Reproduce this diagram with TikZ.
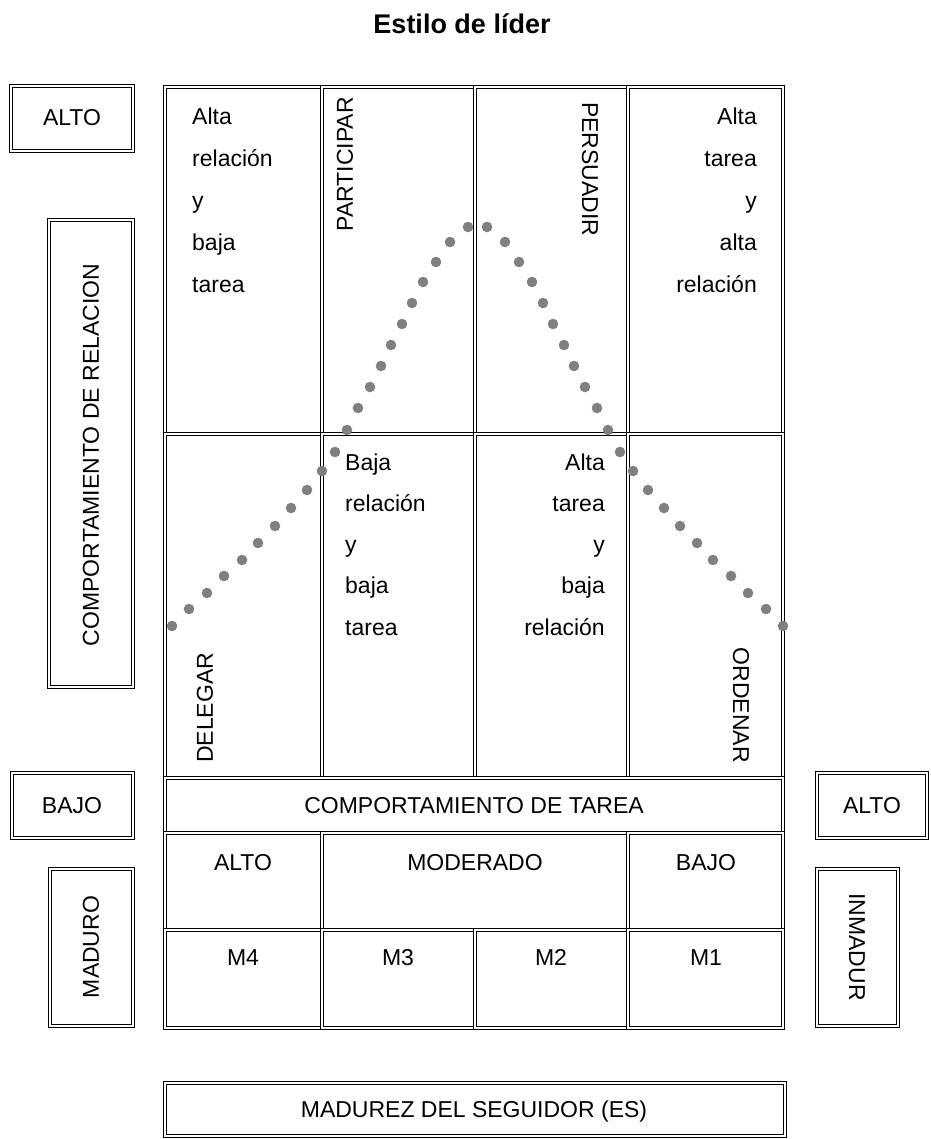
\documentclass[tikz,border=0pt]{standalone}
\usepackage{fontspec}
\setmainfont{Liberation Sans}
\begin{document}
\begin{tikzpicture}[x=1pt,y=-1pt,
    dbox/.style={draw=black,double=white,line width=1.6pt,double distance=1.5pt},
    txt/.style={font=\fontsize{23}{27}\selectfont,inner sep=0pt},
    dotc/.style={fill=black!50}]
    \useasboundingbox (0,0) rectangle (930,1139);

    % titulo
    \node[font=\fontsize{27}{30}\selectfont\bfseries] (titulo) at (462,24) {Estilo de líder};

    % cuadricula superior
    \foreach \xa/\xb in {165/322,322/475,475/628,628/783}
        \foreach \ya/\yb in {87/434,434/778}
            \draw[dbox] (\xa,\ya) rectangle (\xb,\yb);
    \draw[dbox] (165,778) rectangle (783,833);
    \foreach \xa/\xb in {165/322,322/628,628/783}
        \draw[dbox] (\xa,833) rectangle (\xb,930);
    \foreach \xa/\xb in {165/322,322/475,475/628,628/783}
        \draw[dbox] (\xa,930) rectangle (\xb,1028);

    % cajas laterales
    \draw[dbox] (11,86) rectangle (133,151);
    \draw[dbox] (49,220) rectangle (133,687);
    \draw[dbox] (12,773) rectangle (133,838);
    \draw[dbox] (50,869) rectangle (133,1026);
    \draw[dbox] (817,773) rectangle (927,838);
    \draw[dbox] (817,869) rectangle (898,1026);
    \draw[dbox] (165,1083) rectangle (785,1136);

    % curva de estilo
    \foreach \x/\y in {172/626,189/609,207/593,224/576,242/560,258/543,275/526,291/508,307/490,322/471,335/452,347/430,358/408,370/387,381/366,391/345,402/324,412/303,423/282,436/262,450/242,468/227}
    {
        \fill[dotc] (\x,\y) circle (5.3pt);
        \fill[dotc] ({955-\x},\y) circle (5.3pt);
    }

    % textos de celdas
    \foreach \w [count=\k] in {Alta,relación,y,baja,tarea}
        \node[txt,anchor=base west] (arbt\k) at (192,{125+41.75*(\k-1)}) {\w};
    \foreach \w [count=\k] in {Alta,tarea,y,alta,relación}
        \node[txt,anchor=base east] (atar\k) at (757,{125+41.75*(\k-1)}) {\w};
    \foreach \w [count=\k] in {Baja,relación,y,baja,tarea}
        \node[txt,anchor=base west] (brbt\k) at (345,{470+41.3*(\k-1)}) {\w};
    \foreach \w [count=\k] in {Alta,tarea,y,baja,relación}
        \node[txt,anchor=base east] (atbr\k) at (605,{470+41.3*(\k-1)}) {\w};

    \node[txt,rotate=90,anchor=east] (participar) at (345,97) {PARTICIPAR};
    \node[txt,rotate=-90,anchor=west] (persuadir) at (590,102) {PERSUADIR};
    \node[txt,rotate=90,anchor=west] (delegar) at (205,763) {DELEGAR};
    \node[txt,rotate=-90,anchor=east] (ordenar) at (741,763) {ORDENAR};

    % filas inferiores
    \node[txt,anchor=base] (tarea) at (474,813) {COMPORTAMIENTO DE TAREA};
    \node[txt,anchor=base] (alto) at (243,870) {ALTO};
    \node[txt,anchor=base] (moderado) at (475,870) {MODERADO};
    \node[txt,anchor=base] (bajo) at (706,870) {BAJO};
    \node[txt,anchor=base] (m4) at (243,965) {M4};
    \node[txt,anchor=base] (m3) at (398,965) {M3};
    \node[txt,anchor=base] (m2) at (551,965) {M2};
    \node[txt,anchor=base] (m1) at (706,965) {M1};
    \node[txt,anchor=base] (seguidor) at (474,1117) {MADUREZ DEL SEGUIDOR (ES)};

    % rotulos laterales
    \node[txt,anchor=base] (altoizq) at (72,126) {ALTO};
    \node[txt,rotate=90] (relacion) at (91,455) {COMPORTAMIENTO DE RELACION};
    \node[txt,anchor=base] (bajoizq) at (72,813) {BAJO};
    \node[txt,rotate=90] (maduro) at (91,947) {MADURO};
    \node[txt,anchor=base] (altoder) at (872,813) {ALTO};
    \node[txt,rotate=-90] (inmadur) at (857,947) {INMADUR};
\end{tikzpicture}
\end{document}
